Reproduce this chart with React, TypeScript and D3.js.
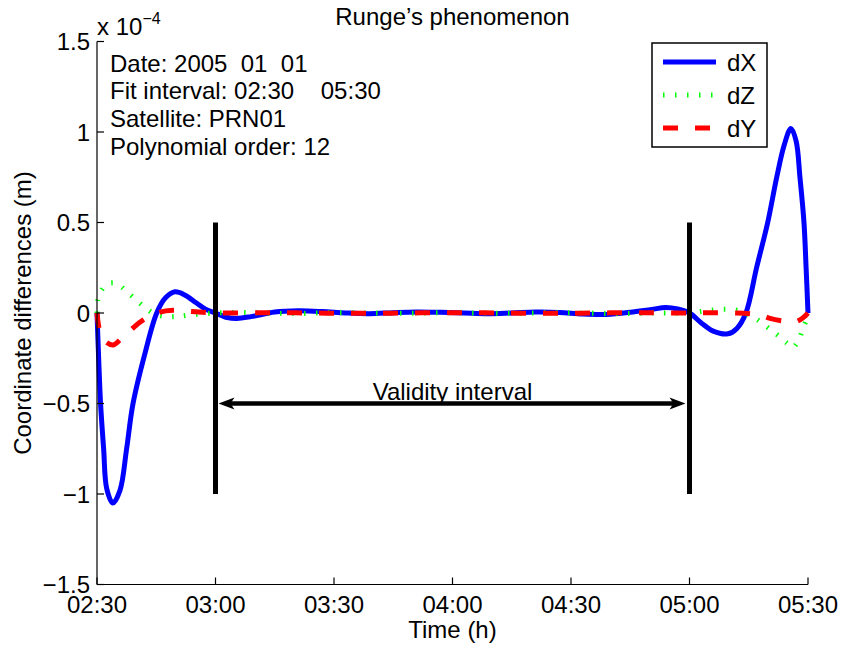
import React from 'react';
import * as d3 from 'd3';

// time in hours, differences in units of 1e-4 m
const timeX = [2.5, 2.507, 2.515, 2.528, 2.541, 2.567, 2.597, 2.625, 2.652, 2.703, 2.752, 2.79, 2.829, 2.87, 2.92, 2.96, 3.0, 3.05, 3.09, 3.15, 3.25, 3.35, 3.45, 3.55, 3.65, 3.75, 3.85, 3.95, 4.05, 4.15, 4.25, 4.35, 4.45, 4.55, 4.65, 4.75, 4.84, 4.9, 4.95, 5.0, 5.05, 5.1, 5.162, 5.2, 5.238, 5.283, 5.33, 5.368, 5.4, 5.428, 5.45, 5.466, 5.483, 5.492, 5.5];
const dX = [0, -0.25, -0.5, -0.75, -0.97, -1.05, -0.98, -0.75, -0.5, -0.22, 0, 0.085, 0.117, 0.1, 0.055, 0.02, 0, -0.025, -0.03, -0.02, 0.005, 0.012, 0.008, 0.0, -0.004, 0.002, 0.006, 0.004, 0.0, -0.004, 0.0, 0.005, 0.003, -0.006, -0.008, 0.004, 0.02, 0.03, 0.022, 0, -0.055, -0.1, -0.115, -0.085, 0, 0.25, 0.5, 0.75, 0.93, 1.02, 0.95, 0.75, 0.5, 0.25, 0];

const timeZ = [2.5, 2.503, 2.52, 2.545, 2.572, 2.6, 2.618, 2.656, 2.694, 2.736, 2.78, 2.83, 2.9, 3.0, 3.1, 3.2, 3.35, 3.5, 3.65, 3.8, 3.95, 4.1, 4.25, 4.4, 4.55, 4.7, 4.85, 5.0, 5.07, 5.14, 5.2, 5.25, 5.29, 5.33, 5.37, 5.41, 5.435, 5.46, 5.48, 5.5];
const dZ = [0, 0.07, 0.127, 0.16, 0.165, 0.148, 0.127, 0.083, 0.04, 0, -0.018, -0.02, -0.01, 0, 0.003, 0.0, -0.003, 0.002, 0.0, -0.002, 0.002, 0.0, -0.002, 0.002, 0.0, -0.003, 0.0, 0, 0.012, 0.02, 0.015, -0.01, -0.04, -0.08, -0.12, -0.165, -0.19, -0.15, -0.08, -0.02];

const timeY = [2.5, 2.51, 2.53, 2.567, 2.6, 2.652, 2.694, 2.766, 2.82, 2.9, 3.0, 3.2, 3.4, 3.6, 3.8, 4.0, 4.2, 4.4, 4.6, 4.8, 5.0, 5.1, 5.2, 5.26, 5.3, 5.34, 5.4, 5.445, 5.48, 5.5];
const dY = [0, -0.09, -0.15, -0.177, -0.145, -0.083, -0.04, 0.005, 0.015, 0.008, 0, 0.002, 0, -0.002, 0, 0.002, 0, -0.002, 0, 0.002, 0, 0.002, 0.0, -0.005, -0.012, -0.03, -0.045, -0.05, -0.025, 0];

const xTickValues = [2.5, 3, 3.5, 4, 4.5, 5, 5.5];
const xTickLabels = ['02:30', '03:00', '03:30', '04:00', '04:30', '05:00', '05:30'];
const yTickValues = [-1.5, -1, -0.5, 0, 0.5, 1, 1.5];
const yTickLabels = ['\u22121.5', '\u22121', '\u22120.5', '0', '0.5', '1', '1.5'];

const validity = [3, 5];
const markerRange = [-1, 0.5];
const arrowLevel = -0.5;

const infoLines = ['Date: 2005  01  01', 'Fit interval: 02:30    05:30', 'Satellite: PRN01', 'Polynomial order: 12'];

const series = [
  { name: 'dX', t: timeX, v: dX, color: '#0000ff', dash: null, width: 5 },
  { name: 'dZ', t: timeZ, v: dZ, color: '#00ff00', dash: '1.5,10.5', width: 5 },
  { name: 'dY', t: timeY, v: dY, color: '#ff0000', dash: '15,17', width: 5 },
];

const font = 'Liberation Sans, Arial, Helvetica, sans-serif';

export default function App() {
  const width = 855;
  const height = 648;
  const margin = { left: 97, right: 47, top: 41.5, bottom: 63.5 };

  const x = d3.scaleLinear().domain([2.5, 5.5]).range([margin.left, width - margin.right]);
  const y = d3.scaleLinear().domain([-1.5, 1.5]).range([height - margin.bottom, margin.top]);

  const line = (t: number[], v: number[]) =>
    d3.line<number>()
      .x((d, i) => x(t[i]))
      .y((d) => y(d))
      .curve(d3.curveCatmullRom.alpha(0.5))(v);

  const x0 = x(2.5);
  const x1 = x(5.5);
  const yb = y(-1.5);
  const yt = y(1.5);
  const ya = y(arrowLevel);
  const aL = x(validity[0]) + 3;
  const aR = x(validity[1]) - 4;

  const head = (tip: number, dir: number) => {
    const len = 16, hw = 6, notch = 12;
    return `M${tip},${ya} L${tip + dir * len},${ya - hw} L${tip + dir * notch},${ya} L${tip + dir * len},${ya + hw} Z`;
  };

  const legend = { x: 652, y: 43, w: 115, h: 104 };

  return (
    <svg width={width} height={height} style={{ position: 'absolute', left: 0, top: 0, background: '#fff' }}
      fontFamily={font}>
      <rect x={0} y={0} width={width} height={height} fill="#fff" />

      {/* curves */}
      {series.map((s) => (
        <path key={s.name} d={line(s.t, s.v) || ''} fill="none" stroke={s.color} strokeWidth={s.width}
          strokeDasharray={s.dash || undefined} strokeLinejoin="round" />
      ))}

      {/* validity markers */}
      {validity.map((t) => (
        <line key={t} x1={x(t)} x2={x(t)} y1={y(markerRange[1])} y2={y(markerRange[0])} stroke="#000" strokeWidth={5} />
      ))}
      <line x1={aL + 10} x2={aR - 10} y1={ya} y2={ya} stroke="#000" strokeWidth={4.5} />
      <path d={head(aL, 1)} fill="#000" />
      <path d={head(aR, -1)} fill="#000" />
      <text x={(x(validity[0]) + x(validity[1])) / 2} y={ya - 4} fontSize={24} textAnchor="middle">Validity interval</text>

      {/* axes */}
      <line x1={x0} x2={x1} y1={yb} y2={yb} stroke="#000" strokeWidth={1.2} />
      <line x1={x0} x2={x0} y1={yt} y2={yb} stroke="#000" strokeWidth={1.2} />
      {xTickValues.map((t, i) => (
        <g key={t}>
          <line x1={x(t)} x2={x(t)} y1={yb} y2={yb - 7} stroke="#000" strokeWidth={1.2} />
          <text x={x(t)} y={yb + 28} fontSize={24} textAnchor="middle">{xTickLabels[i]}</text>
        </g>
      ))}
      {yTickValues.map((v, i) => (
        <g key={v}>
          <line x1={x0} x2={x0 + 7} y1={y(v)} y2={y(v)} stroke="#000" strokeWidth={1.2} />
          <text x={x0 - 7} y={y(v) + 8.5} fontSize={24} textAnchor="end">{yTickLabels[i]}</text>
        </g>
      ))}
      <text x={x0} y={35} fontSize={24}>x 10<tspan fontSize={16} dy={-11}>{'\u22124'}</tspan></text>

      {/* labels */}
      <text x={(x0 + x1) / 2} y={25} fontSize={24} textAnchor="middle">Runge’s phenomenon</text>
      <text x={(x0 + x1) / 2} y={638} fontSize={24} textAnchor="middle">Time (h)</text>
      <text transform={`translate(31,${y(0)}) rotate(-90)`} fontSize={24} textAnchor="middle">Coordinate differences (m)</text>

      {infoLines.map((s, i) => (
        <text key={i} x={110} y={71.5 + i * 27.8} fontSize={24} style={{ whiteSpace: 'pre' }}>{s}</text>
      ))}

      {/* legend */}
      <rect x={legend.x} y={legend.y} width={legend.w} height={legend.h} fill="#fff" stroke="#000" strokeWidth={1.5} />
      {series.map((s, i) => (
        <g key={s.name}>
          <line x1={663} x2={716} y1={62 + i * 33} y2={62 + i * 33} stroke={s.color} strokeWidth={s.width}
            strokeDasharray={s.dash || undefined} />
          <text x={727} y={71 + i * 33} fontSize={24}>{s.name}</text>
        </g>
      ))}
    </svg>
  );
}
